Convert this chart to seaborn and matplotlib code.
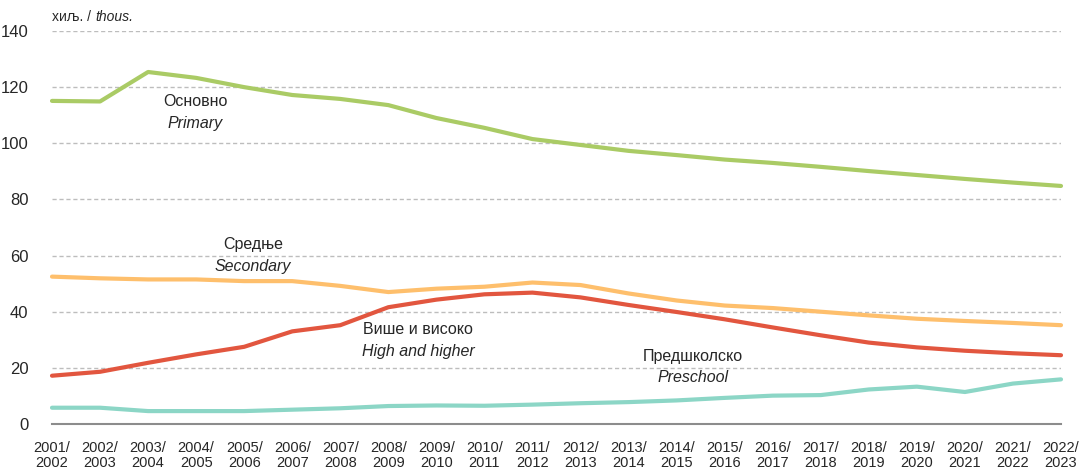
import pandas as pd
import matplotlib.pyplot as plt
import seaborn as sns

# school years
years = ['2001/\n2002', '2002/\n2003', '2003/\n2004', '2004/\n2005', '2005/\n2006', '2006/\n2007',
         '2007/\n2008', '2008/\n2009', '2009/\n2010', '2010/\n2011', '2011/\n2012', '2012/\n2013',
         '2013/\n2014', '2014/\n2015', '2015/\n2016', '2016/\n2017', '2017/\n2018', '2018/\n2019',
         '2019/\n2020', '2020/\n2021', '2021/\n2022', '2022/\n2023']

# thousands
primary = [115.1, 114.9, 125.4, 123.3, 120.0, 117.2, 115.8, 113.6, 109.0, 105.5, 101.5,
           99.4, 97.3, 95.8, 94.2, 93.0, 91.6, 90.1, 88.7, 87.3, 86.0, 84.8]
secondary = [52.5, 51.9, 51.5, 51.5, 50.9, 50.9, 49.2, 47.0, 48.2, 48.9, 50.4,
             49.5, 46.5, 44.0, 42.2, 41.3, 40.0, 38.7, 37.5, 36.7, 36.0, 35.2]
higher = [17.2, 18.6, 21.8, 24.8, 27.5, 33.0, 35.2, 41.6, 44.3, 46.2, 46.8,
          45.1, 42.4, 39.9, 37.3, 34.4, 31.6, 29.0, 27.3, 26.1, 25.2, 24.5]
preschool = [5.8, 5.8, 4.6, 4.6, 4.6, 5.1, 5.6, 6.4, 6.6, 6.5, 6.9,
             7.4, 7.8, 8.4, 9.3, 10.1, 10.3, 12.3, 13.3, 11.4, 14.4, 15.9]

series = {'primary': primary, 'secondary': secondary, 'higher': higher, 'preschool': preschool}
colors = {'primary': '#AACB65', 'secondary': '#FEBF6C', 'higher': '#E2563F', 'preschool': '#8CD6C6'}

rows = []
for name, vals in series.items():
    for i, v in enumerate(vals):
        rows.append({'x': i, 'value': v, 'level': name})
df = pd.DataFrame(rows)

sns.set_style('white')
plt.rcParams['font.family'] = ['Liberation Sans', 'DejaVu Sans']

fig = plt.figure(figsize=(10.79, 4.72), dpi=100)
ax = fig.add_axes([52 / 1079, 1 - 424 / 472, (1061 - 52) / 1079, (424 - 31) / 472])

sns.lineplot(data=df, x='x', y='value', hue='level', palette=colors, linewidth=3,
             legend=False, ax=ax, clip_on=False, zorder=3)

ax.set_xlim(0, len(years) - 1)
ax.set_ylim(0, 140)
ax.set_yticks(range(0, 141, 20))
ax.set_xticks(range(len(years)))
ax.set_xticklabels(years, fontsize=10.5, linespacing=1.15)
ax.tick_params(axis='y', length=0, pad=17, labelsize=12)
ax.tick_params(axis='x', length=5, width=1.5, color='#8C8C8C', pad=7)
ax.set_xlabel('')
ax.set_ylabel('')

for y in range(20, 141, 20):
    ax.axhline(y, color='#BDBDBD', lw=1, ls=(0, (3, 2)), zorder=1)

for s in ['top', 'right', 'left']:
    ax.spines[s].set_visible(False)
ax.spines['bottom'].set_color('#8C8C8C')
ax.spines['bottom'].set_linewidth(1.5)

# unit label
t1 = ax.text(0.0, 142.5, 'хиљ. / ', fontsize=10, ha='left', va='bottom')
ax.annotate('thous.', xy=(1, 0), xycoords=t1, fontsize=10, style='italic', ha='left', va='bottom')

# series labels
labels = [(2.98, 115.0, 'Основно', 'Primary'),
          (4.18, 63.8, 'Средње', 'Secondary'),
          (7.62, 33.5, 'Више и високо', 'High and higher'),
          (13.34, 24.2, 'Предшколско', 'Preschool')]
for x, y, sr, en in labels:
    ax.text(x, y, sr, fontsize=11.5, ha='center', va='center')
    ax.text(x, y - 7.8, en, fontsize=11.5, ha='center', va='center', style='italic')

fig.savefig('out.png', dpi=100)
